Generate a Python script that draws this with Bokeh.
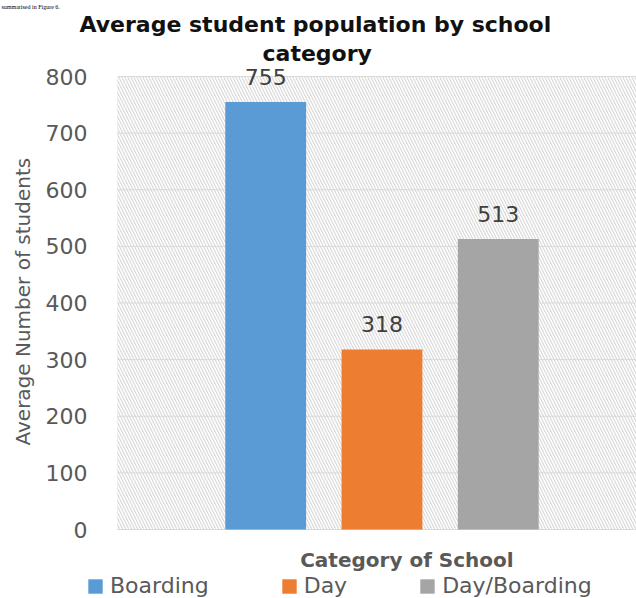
from bokeh.plotting import figure
from bokeh.models import (Range1d, ColumnDataSource, LabelSet, Label, Title, BoxAnnotation,
                          FixedTicker, Legend, LegendItem)
from bokeh.core.properties import value
from bokeh.embed import file_html
from bokeh.resources import INLINE

# ---- data ----
categories = ["Boarding", "Day", "Day/Boarding"]
values = [755, 318, 513]
colors = ["#5b9bd5", "#ed7d31", "#a5a5a5"]
positions = [0, 1, 2]
y_ticks = [0, 100, 200, 300, 400, 500, 600, 700, 800]
title_lines = ["Average student population  by school", "category"]
x_title = "Category of School"
y_title = "Average Number of students"
caption = "summarised in Figure 6."

# ---- layout (pixels) ----
W, H = 636, 598
FONT = "DejaVu Sans"
FRAME_L, FRAME_R, FRAME_T, FRAME_B = 86, 636, 68, 598
AREA_L, AREA_T, AREA_B = 116, 76, 529      # hatched plot area
CAT_PX, FIRST_PX = 116.5, 264.5            # px per category step, first bar centre
Y_PX = (AREA_B - AREA_T) / (y_ticks[-1] - y_ticks[0])

def px_x(px):
    return (px - FIRST_PX) / CAT_PX

def px_y(py):
    return y_ticks[0] + (AREA_B - py) / Y_PX

x_start, x_end = px_x(FRAME_L), px_x(FRAME_R)
y_start, y_end = px_y(FRAME_B), px_y(FRAME_T)
area_left = px_x(AREA_L)

p = figure(width=W, height=H, output_backend="svg", toolbar_location=None, title=None,
           x_axis_location=None,
           x_range=Range1d(x_start, x_end), y_range=Range1d(y_start, y_end),
           min_border_left=FRAME_L, min_border_right=0, min_border_top=FRAME_T,
           min_border_bottom=0)
p.outline_line_color = None
p.background_fill_color = "white"
p.border_fill_color = "white"

# hatched plot area (0..800) with light border
p.add_layout(BoxAnnotation(left=area_left, right=x_end + 1, bottom=y_ticks[0], top=y_ticks[-1],
                           fill_color="white", fill_alpha=1.0,
                           line_color="#d9d9d9", line_width=1,
                           hatch_pattern="\\", hatch_color="#d9d9d9",
                           hatch_scale=6, hatch_weight=1.2, level="image"))

# horizontal grid lines across the plot area only
p.xgrid.grid_line_color = None
p.ygrid.grid_line_color = None
p.segment(x0=[area_left] * len(y_ticks), x1=[x_end + 1] * len(y_ticks),
          y0=y_ticks, y1=y_ticks, line_color="#d9d9d9", line_width=1, level="underlay")

# y axis
p.yaxis.ticker = FixedTicker(ticks=y_ticks)
p.yaxis.major_label_text_font = FONT
p.yaxis.major_label_text_font_size = "22px"
p.yaxis.major_label_text_color = "#595959"
p.yaxis.major_tick_line_color = None
p.yaxis.major_tick_out = 0
p.yaxis.major_tick_in = 0
p.yaxis.minor_tick_line_color = None
p.yaxis.minor_tick_out = 0
p.yaxis.axis_line_color = None
p.yaxis.major_label_standoff = 0

# y axis title (left panel, placed along the plot area)
p.add_layout(Title(text=y_title, align="left", offset=153, standoff=16,
                   text_font=FONT, text_font_size="20px", text_font_style="normal",
                   text_color="#595959"), "left")

# bars
src = ColumnDataSource(dict(x=positions, top=values, color=colors, series=categories,
                            label=[str(v) for v in values]))
r = p.vbar(x="x", top="top", width=0.695, fill_color="color", line_color=None, source=src)

p.add_layout(LabelSet(x="x", y="top", text="label", source=src, y_offset=17,
                      text_align="center", text_baseline="alphabetic",
                      text_font=value(FONT), text_font_size=value("22px"),
                      text_color=value("#404040")))

# titles (above, inner first)
p.add_layout(Title(text=title_lines[1], align="left", offset=175, standoff=5,
                   text_font=FONT, text_font_size="22px", text_font_style="bold",
                   text_color="#111111"), "above")
p.add_layout(Title(text=title_lines[0], align="left", offset=-8, standoff=0,
                   text_font=FONT, text_font_size="22px", text_font_style="bold",
                   text_color="#111111"), "above")
p.add_layout(Title(text=caption, align="left", offset=-86, standoff=0,
                   text_font="Liberation Serif", text_font_size="6px",
                   text_font_style="normal", text_color="#000000"), "above")

# x axis title below the plot area
p.add_layout(Label(x=px_x(406), y=px_y(559), text=x_title, text_align="center",
                   text_baseline="alphabetic", text_font=FONT, text_font_size="20px",
                   text_font_style="bold", text_color="#595959"))

legend = Legend(items=[LegendItem(label=c, renderers=[r], index=i) for i, c in enumerate(categories)],
                orientation="horizontal", location=(-1, 0),
                glyph_width=18, glyph_height=18, label_standoff=6, spacing=71,
                padding=0, margin=0, border_line_color=None, background_fill_alpha=0,
                label_text_font=FONT, label_text_font_size="22px", label_text_color="#595959",
                label_height=15)
p.add_layout(legend)

open("out.html", "w").write(file_html(p, INLINE))
